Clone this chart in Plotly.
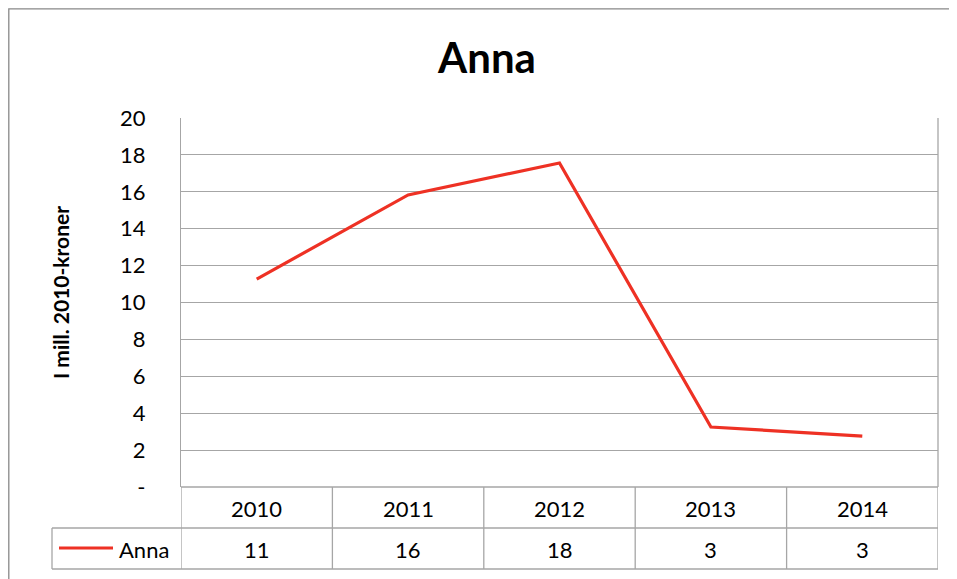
import plotly.graph_objects as go

years = ["2010", "2011", "2012", "2013", "2014"]
values = [11.27, 15.83, 17.56, 3.25, 2.76]
table_values = ["11", "16", "18", "3", "3"]
series_name = "Anna"
y_ticks = [0, 2, 4, 6, 8, 10, 12, 14, 16, 18, 20]
y_ticktext = ["-", "2", "4", "6", "8", "10", "12", "14", "16", "18", "20"]

OFF = 8  # page body margin
W, H = 957 - OFF, 579 - OFF
L, T = 181 - OFF, 118 - OFF
R = 957 - 938
B = 579 - 487
pw, ph = W - L - R, H - T - B

def px(x):
    return (x - OFF - L) / pw

def py(y):
    return (H - B - (y - OFF)) / ph

FONT = "Lato, Carlito, Calibri, sans-serif"
GRID = "#A6A6A6"
RED = "#EE3124"

fig = go.Figure()
fig.add_trace(go.Scatter(
    x=list(range(len(years))), y=values, mode="lines",
    line=dict(color=RED, width=3.2), name=series_name, showlegend=False,
    hoverinfo="x+y"))

shapes = []
shapes.append(dict(type="rect", xref="paper", yref="paper",
                   x0=(0.8 - L) / pw, x1=px(950), y0=py(590), y1=(H - B - 0.8) / ph,
                   line=dict(color="#888888", width=1.3), layer="below"))
shapes.append(dict(type="line", xref="paper", yref="paper",
                   x0=1, x1=1, y0=0, y1=1, line=dict(color=GRID, width=1.3)))
for yy, x0 in [(487, 181), (528, 52), (569, 52)]:
    shapes.append(dict(type="line", xref="paper", yref="paper",
                       x0=px(x0), x1=1, y0=py(yy), y1=py(yy),
                       line=dict(color=GRID, width=1.3)))
for i in range(len(years) + 1):
    shapes.append(dict(type="line", xref="x", yref="paper",
                       x0=i - 0.5, x1=i - 0.5, y0=py(569), y1=py(487),
                       line=dict(color=GRID, width=1.3)))
shapes.append(dict(type="line", xref="paper", yref="paper",
                   x0=px(52), x1=px(52), y0=py(569), y1=py(528),
                   line=dict(color=GRID, width=1.3)))
shapes.append(dict(type="line", xref="paper", yref="paper",
                   x0=px(59), x1=px(113), y0=py(548), y1=py(548),
                   line=dict(color=RED, width=3.2)))

TF = dict(size=22, color="#000", family=FONT)
annotations = []
for i, (yr, tv) in enumerate(zip(years, table_values)):
    annotations.append(dict(x=i, y=py(508), xref="x", yref="paper", text=yr,
                            xanchor="center", yanchor="middle", showarrow=False, font=TF))
    annotations.append(dict(x=i, y=py(549), xref="x", yref="paper", text=tv,
                            xanchor="center", yanchor="middle", showarrow=False, font=TF))
annotations.append(dict(x=px(117), y=py(549), xref="paper", yref="paper", text=series_name,
                        xanchor="left", yanchor="middle", showarrow=False, font=TF))
annotations.append(dict(x=px(60), y=py(292), xref="paper", yref="paper",
                        text="<b>I mill. 2010-kroner</b>", textangle=-90, showarrow=False,
                        xanchor="center", yanchor="middle",
                        font=dict(size=21, color="#000", family=FONT)))

fig.update_layout(
    width=W, height=H,
    margin=dict(l=L, r=R, t=T, b=B),
    paper_bgcolor="white", plot_bgcolor="white",
    title=dict(text="<b>Anna</b>", x=(487 - OFF) / W, xanchor="center",
               y=1 - (58 - OFF) / H, yanchor="middle",
               font=dict(size=42, color="#000", family=FONT)),
    font=dict(family=FONT, color="#000"),
    xaxis=dict(range=[-0.5, 4.5], showticklabels=False, showgrid=False, zeroline=False,
               showline=False, fixedrange=True),
    yaxis=dict(range=[0, 20], tickvals=y_ticks, ticktext=y_ticktext,
               showgrid=True, gridcolor=GRID, gridwidth=1.3, zeroline=False,
               showline=True, linecolor=GRID, linewidth=1.3,
               ticks="", ticklabelstandoff=30, tickfont=dict(size=22, family=FONT)),
    shapes=shapes, annotations=annotations, showlegend=False,
)
fig.write_html("out.html")
